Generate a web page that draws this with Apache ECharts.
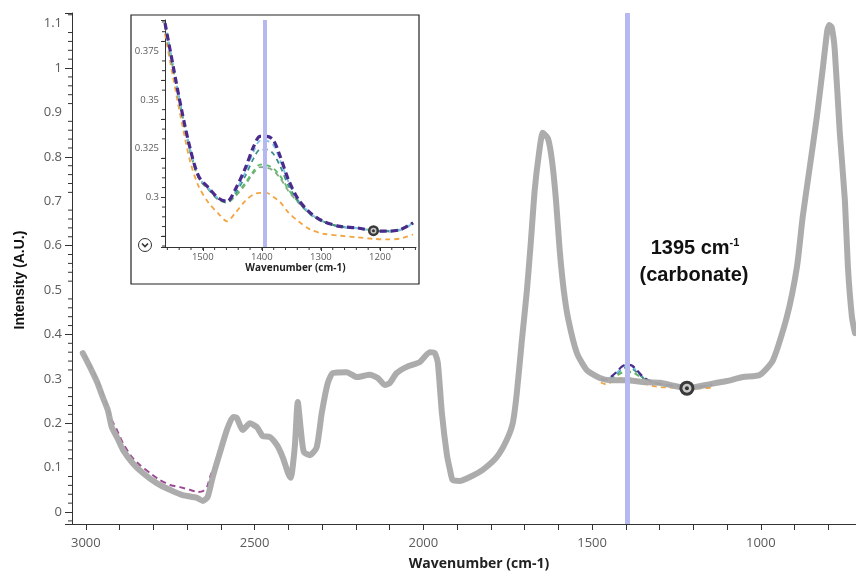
<!DOCTYPE html>
<html>
<head>
<meta charset="utf-8">
<script src="https://cdn.jsdelivr.net/npm/echarts@6/dist/echarts.min.js"></script>
<style>html,body{margin:0;padding:0;background:#fff}#c{width:856px;height:577px}</style>
</head>
<body>
<div id="c"></div>
<script>
// ---------- data ----------
const grayWn = [3009,2994,2979,2965,2950,2935,2923,2908,2890,2861,2831,2790,2751,2713,2671,2653,2639,2624,2603,2582,2564,2553,2535,2514,2493,2476,2455,2434,2416,2401,2393,2381,2372,2363,2354,2336,2316,2301,2283,2268,2227,2197,2159,2135,2114,2099,2079,2049,2010,1981,1966,1957,1945,1930,1921,1913,1892,1862,1824,1782,1753,1735,1723,1708,1693,1681,1670,1658,1646,1631,1619,1607,1596,1584,1570,1545,1516,1477,1447,1400,1350,1299,1219,1151,1101,1053,1003,964,923,893,876,855,834,816,803,797,790,781,766,751,742,730,721];
const grayI = [0.358,0.336,0.313,0.290,0.259,0.230,0.191,0.169,0.140,0.110,0.088,0.065,0.050,0.038,0.032,0.025,0.034,0.079,0.133,0.185,0.214,0.212,0.185,0.200,0.191,0.171,0.169,0.151,0.122,0.088,0.077,0.146,0.248,0.185,0.135,0.128,0.146,0.223,0.291,0.313,0.315,0.304,0.309,0.302,0.286,0.291,0.313,0.327,0.338,0.360,0.358,0.336,0.223,0.128,0.095,0.072,0.070,0.079,0.095,0.124,0.162,0.200,0.268,0.387,0.500,0.613,0.725,0.804,0.854,0.842,0.793,0.703,0.590,0.500,0.432,0.358,0.320,0.302,0.297,0.297,0.293,0.291,0.279,0.288,0.295,0.304,0.309,0.342,0.439,0.552,0.664,0.777,0.890,1.002,1.085,1.097,1.092,1.041,0.854,0.703,0.552,0.439,0.403];

const magentaWn = [3003,2973,2950,2923,2908,2890,2864,2840,2810,2781,2751,2721,2692,2668,2653,2641,2630,2620];
const magentaI = [0.354,0.309,0.268,0.207,0.185,0.155,0.124,0.106,0.088,0.072,0.061,0.056,0.050,0.045,0.047,0.056,0.083,0.100];

const insetWn = [1564,1550,1536,1521,1507,1490,1474,1459,1445,1428,1414,1403,1392,1381,1369,1355,1338,1318,1296,1268,1239,1211,1189,1166,1144];
const purpleI = [0.3895,0.367,0.345,0.3245,0.3108,0.3048,0.2997,0.2979,0.304,0.315,0.326,0.3313,0.3313,0.3296,0.321,0.309,0.2988,0.292,0.2877,0.2851,0.2843,0.2829,0.2826,0.2834,0.2869];
const lightBlueI = [0.389,0.3665,0.3445,0.324,0.3105,0.3045,0.2995,0.2978,0.303,0.313,0.3235,0.329,0.329,0.327,0.319,0.308,0.2985,0.2918,0.2876,0.285,0.2842,0.2828,0.2825,0.2833,0.2866];
const tealI = [0.3888,0.3662,0.3442,0.3238,0.3103,0.3043,0.2993,0.2976,0.302,0.311,0.320,0.3245,0.3245,0.3225,0.316,0.306,0.298,0.2915,0.2875,0.285,0.2842,0.2828,0.2826,0.2835,0.2868];
const greenI = [0.3885,0.366,0.344,0.3235,0.310,0.304,0.299,0.2975,0.301,0.3075,0.3135,0.3168,0.3165,0.315,0.311,0.304,0.2975,0.2915,0.2876,0.2852,0.2844,0.2830,0.2828,0.2837,0.2870];
const sageI = [0.3882,0.3658,0.3438,0.3232,0.3098,0.3038,0.2988,0.2972,0.3005,0.3065,0.3125,0.3155,0.3152,0.3138,0.3098,0.3032,0.2972,0.2912,0.2874,0.2849,0.2841,0.2827,0.2824,0.2832,0.2864];
const orangeI = [0.384,0.361,0.339,0.318,0.3056,0.2971,0.2918,0.2877,0.292,0.2982,0.3015,0.3023,0.3023,0.3003,0.2975,0.2922,0.2876,0.2835,0.2813,0.2803,0.2795,0.2787,0.2784,0.2788,0.2809];

const carbonateWn = 1395;
const mainMarker = [1219, 0.279];
const insetMarker = [1211, 0.2829];

const mainXLabels = [3000,2500,2000,1500,1000];
const mainXTicks = [3000,2900,2800,2700,2600,2500,2400,2300,2200,2100,2000,1900,1800,1700,1600,1500,1400,1300,1200,1100,1000,900,800];
const mainYLabels = [0,0.1,0.2,0.3,0.4,0.5,0.6,0.7,0.8,0.9,1,1.1];
const mainYMinorTicks = [-0.02,0.02,0.04,0.06,0.08,0.12,0.14,0.16,0.18,0.22,0.24,0.26,0.28,0.32,0.34,0.36,0.38,0.42,0.44,0.46,0.48,0.52,0.54,0.56,0.58,0.62,0.64,0.66,0.68,0.72,0.74,0.76,0.78,0.82,0.84,0.86,0.88,0.92,0.94,0.96,0.98,1.02,1.04,1.06,1.08,1.12];
const insetXLabels = [1500,1400,1300,1200];
const insetXTicks = [1560,1540,1520,1500,1480,1460,1440,1420,1400,1380,1360,1340,1320,1300,1280,1260,1240,1220,1200,1180,1160,1140];
const insetYLabels = [0.3,0.325,0.35,0.375];
const insetYMinorTicks = [0.275,0.28,0.285,0.29,0.295,0.305,0.31,0.315,0.32,0.33,0.335,0.34,0.345,0.355,0.36,0.365,0.37,0.38,0.385,0.39];

// ---------- build ----------
const pairs = (xs, ys) => xs.map((x, i) => [x, ys[i]]);
const axisCol = '#333';
const labCol = '#5a5a5a';
const plain = v => String(v);

const MAIN_X = {min:718, max:3041};
const MAIN_Y = {min:-0.027, max:1.124};
const INS_X = {min:1139, max:1564};
const INS_Y = {min:0.2745, max:0.391};

const colored = [
  {ys: orangeI, color:'#f2a541', w:1.8, dash:[5,4]},
  {ys: sageI, color:'#86a98a', w:1.8, dash:[5,4]},
  {ys: greenI, color:'#5dbb63', w:1.8, dash:[5,4]},
  {ys: tealI, color:'#3b8d86', w:1.8, dash:[5,4]},
  {ys: lightBlueI, color:'#7cc2ea', w:1.8, dash:[5,4]},
  {ys: purpleI, color:'#4a2b8c', w:3.2, dash:[7,4]}
];

const series = [];
series.push({type:'line', xAxisIndex:0, yAxisIndex:0, data:[], z:1, silent:true,
  markLine:{silent:true, symbol:['none','none'], label:{show:false},
    lineStyle:{color:'#b6b8f0', width:5, type:'solid', opacity:1}, data:[{xAxis: carbonateWn}]}});
series.push({type:'line', xAxisIndex:1, yAxisIndex:1, data:[], z:1, silent:true,
  markLine:{silent:true, symbol:['none','none'], label:{show:false},
    lineStyle:{color:'#b6b8f0', width:4, type:'solid', opacity:1}, data:[{xAxis: carbonateWn}]}});

series.push({type:'line', xAxisIndex:0, yAxisIndex:0, data: pairs(magentaWn, magentaI), showSymbol:false, smooth:0.2, z:2,
  lineStyle:{color:'#9b4a92', width:2, type:[6,4]}});
colored.forEach(c => {
  series.push({type:'line', xAxisIndex:0, yAxisIndex:0, data: pairs(insetWn, c.ys).slice(6), showSymbol:false, smooth:0.3, z:2,
    lineStyle:{color:c.color, width:Math.min(c.w,2.2), type:c.dash}});
});
series.push({type:'line', xAxisIndex:0, yAxisIndex:0, data: pairs(grayWn, grayI), showSymbol:false, smooth:0.2, z:3,
  lineStyle:{color:'#a8a8a8', width:6, cap:'round', join:'round', opacity:0.95}});
colored.forEach(c => {
  series.push({type:'line', xAxisIndex:1, yAxisIndex:1, data: pairs(insetWn, c.ys), showSymbol:false, smooth:0.3, z:2,
    lineStyle:{color:c.color, width:c.w, type:c.dash}});
});
[[0,0,mainMarker,[15,9,4]],[1,1,insetMarker,[11,6,3]]].forEach(m => {
  const [xi, yi, pt, sz] = m;
  series.push({type:'scatter', xAxisIndex:xi, yAxisIndex:yi, data:[pt], symbolSize:sz[0], z:5, silent:true,
    itemStyle:{color:'#3a3a3a', opacity:1}});
  series.push({type:'scatter', xAxisIndex:xi, yAxisIndex:yi, data:[pt], symbolSize:sz[1], z:6, silent:true,
    itemStyle:{color:'#c8c8c8', opacity:1}});
  series.push({type:'scatter', xAxisIndex:xi, yAxisIndex:yi, data:[pt], symbolSize:sz[2], z:7, silent:true,
    itemStyle:{color:'#333', opacity:1}});
});
// minor ticks placed through the axes' own scales (at the left edge of each plot)
series.push({type:'scatter', xAxisIndex:0, yAxisIndex:0, clip:false, silent:true, z:8,
  data: mainYMinorTicks.map(v => [MAIN_X.max, v]), symbol:'rect', symbolSize:[4,1], symbolOffset:[-2,0],
  itemStyle:{color:axisCol, opacity:1}});
series.push({type:'scatter', xAxisIndex:1, yAxisIndex:1, clip:false, silent:true, z:8,
  data: insetYMinorTicks.map(v => [INS_X.max, v]), symbol:'rect', symbolSize:[3,1], symbolOffset:[-1.5,0],
  itemStyle:{color:axisCol, opacity:1}});
series.push({type:'scatter', xAxisIndex:1, yAxisIndex:1, clip:false, silent:true, z:8,
  data: insetXTicks.map(v => [v, INS_Y.min]), symbol:'rect', symbolSize:[1,3], symbolOffset:[0,1.5],
  itemStyle:{color:axisCol, opacity:1}});

const option = {
  animation:false,
  backgroundColor:'#fff',
  grid:[
    {left:72, right:0, top:13, bottom:53, containLabel:false},
    {left:165, top:20, width:251, height:227, containLabel:false}
  ],
  xAxis:[
    {gridIndex:0, type:'value', inverse:true, min:MAIN_X.min, max:MAIN_X.max, position:'bottom',
     axisLine:{show:true, onZero:false, lineStyle:{color:axisCol, width:1}},
     axisTick:{show:true, customValues: mainXTicks, length:6, lineStyle:{color:axisCol}},
     axisLabel:{customValues: mainXLabels, formatter: plain, margin:13, color:labCol, fontSize:13, fontFamily:'Open Sans'},
     splitLine:{show:false},
     name:'Wavenumber (cm-1)', nameLocation:'middle', nameGap:33,
     nameTextStyle:{color:'#222', fontSize:14, fontWeight:'bold', fontFamily:'Open Sans', padding:[0,0,0,30]}},
    {gridIndex:1, type:'value', inverse:true, min:INS_X.min, max:INS_X.max, position:'bottom',
     axisLine:{show:true, onZero:false, lineStyle:{color:axisCol, width:1}},
     axisTick:{show:true, customValues: insetXLabels, length:4, lineStyle:{color:axisCol}},
     axisLabel:{customValues: insetXLabels, formatter: plain, margin:5, color:labCol, fontSize:9.5, fontFamily:'Open Sans'},
     splitLine:{show:false},
     name:'Wavenumber (cm-1)', nameLocation:'middle', nameGap:15,
     nameTextStyle:{color:'#222', fontSize:10, fontWeight:'bold', fontFamily:'Open Sans', padding:[0,0,0,10]}}
  ],
  yAxis:[
    {gridIndex:0, type:'value', min:MAIN_Y.min, max:MAIN_Y.max, position:'left',
     axisLine:{show:true, onZero:false, lineStyle:{color:axisCol, width:1}},
     axisTick:{show:true, length:7, lineStyle:{color:axisCol}},
     axisLabel:{customValues: mainYLabels, formatter: plain, margin:10, color:labCol, fontSize:13, fontFamily:'Open Sans'},
     splitLine:{show:false}},
    {gridIndex:1, type:'value', min:INS_Y.min, max:INS_Y.max, position:'left',
     axisLine:{show:true, onZero:false, lineStyle:{color:axisCol, width:1}},
     axisTick:{show:true, length:4, lineStyle:{color:axisCol}},
     axisLabel:{customValues: insetYLabels, formatter: plain, margin:6, color:labCol, fontSize:9.5, fontFamily:'Open Sans'},
     splitLine:{show:false}}
  ],
  graphic:[
    {type:'rect', z:-10, shape:{x:131, y:15, width:288, height:269},
     style:{fill:'#fff', stroke:'#222', lineWidth:1.2}},
    {type:'circle', z:10, shape:{cx:145, cy:245, r:6.5}, style:{fill:'#fff', stroke:'#333', lineWidth:1}},
    {type:'polyline', z:11, shape:{points:[[142,243.5],[145,246.5],[148,243.5]]}, style:{stroke:'#333', lineWidth:1.6, fill:null}},
    {type:'text', z:20, x:20, y:280, rotation:Math.PI/2,
     style:{text:'Intensity (A.U.)', fill:'#111', font:'bold 14px "Liberation Sans"', align:'center', verticalAlign:'middle'}},
    {type:'text', z:20, x:695, y:248,
     style:{text:'1395 cm{sup|-1}', fill:'#111', font:'bold 20px "Liberation Sans"', align:'center', verticalAlign:'middle',
       rich:{sup:{fontSize:11, fontWeight:'bold', fontFamily:'Liberation Sans', verticalAlign:'top', padding:[0,0,10,0], fill:'#111'}}}},
    {type:'text', z:20, x:694, y:275,
     style:{text:'(carbonate)', fill:'#111', font:'bold 20px "Liberation Sans"', align:'center', verticalAlign:'middle'}}
  ],
  series: series
};

const chart = echarts.init(document.getElementById('c'), null, {renderer:'canvas'});
chart.setOption(option);
</script>
</body>
</html>
